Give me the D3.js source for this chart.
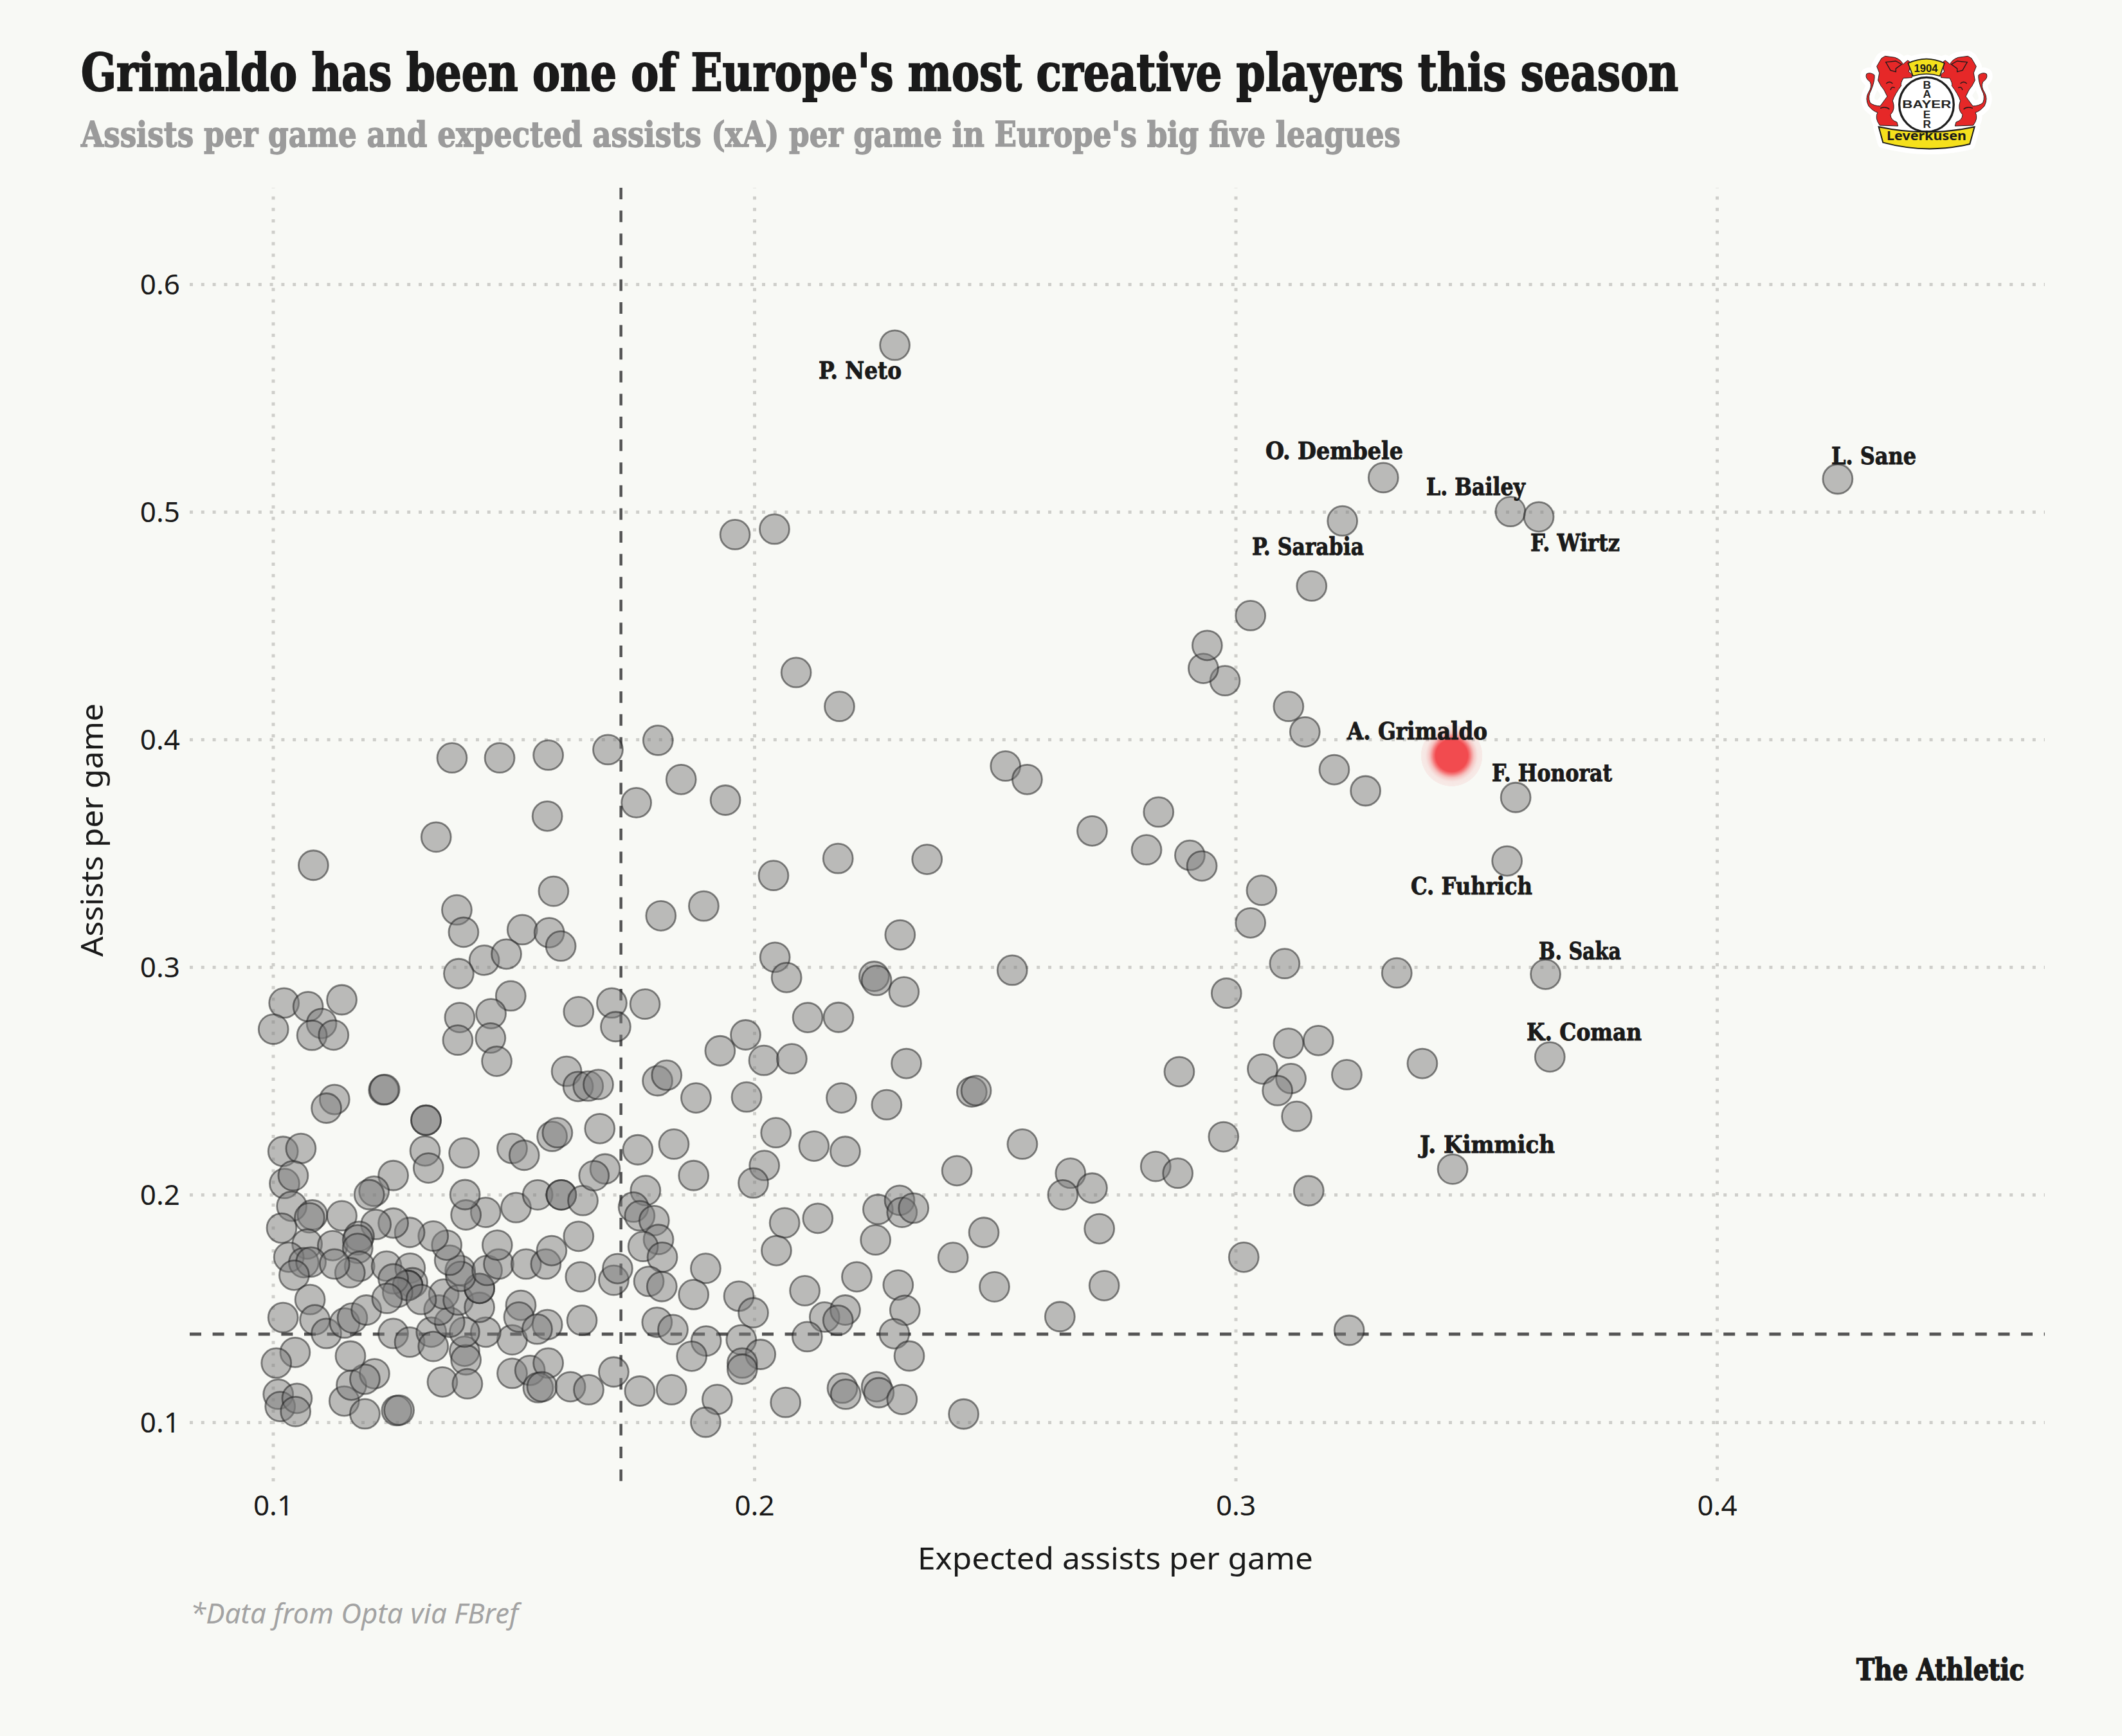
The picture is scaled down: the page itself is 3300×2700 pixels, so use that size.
<!DOCTYPE html>
<html>
<head>
<meta charset="utf-8">
<script src="https://cdn.jsdelivr.net/npm/d3@7"></script>
<style>
html,body{margin:0;padding:0;background:#f8f9f5;}
svg{display:block;}
.slab{font-family:"DejaVu Serif Condensed","DejaVu Serif",serif;font-weight:700;paint-order:stroke;}
.sans{font-family:"Noto Sans",sans-serif;}
</style>
</head>
<body>
<svg id="chart" width="3300" height="2700" xmlns="http://www.w3.org/2000/svg"></svg>
<script>
// ---------- DATA ----------
const titleText = "Grimaldo has been one of Europe's most creative players this season";
const subtitleText = "Assists per game and expected assists (xA) per game in Europe's big five leagues";
const xAxisTitle = "Expected assists per game";
const yAxisTitle = "Assists per game";
const footnoteText = "*Data from Opta via FBref";
const brandText = "The Athletic";
const xTickValues = [0.1, 0.2, 0.3, 0.4];
const yTickValues = [0.1, 0.2, 0.3, 0.4, 0.5, 0.6];
const xaThreshold = 0.1723;
const assistsThreshold = 0.1387;

// [expected assists per game, assists per game]
const otherPlayers = [
[.1021,.2190],[.1058,.2203],[.1024,.2049],[.1042,.2083],[.1039,.1949],[.1082,.1911],[.1076,.1898],[.1143,.1907],
[.1018,.1853],[.1071,.1783],[.1124,.1776],[.1033,.1725],[.1064,.1701],[.1079,.1704],[.1044,.1646],[.1077,.1539],
[.1021,.1460],[.1087,.1450],[.1111,.1390],[.1149,.1436],[.1165,.1458],[.1194,.1493],[.1046,.1307],[.1007,.1260],
[.1011,.1123],[.1015,.1069],[.1050,.1105],[.1047,.1047],[.1148,.1093],[.1163,.1163],[.1211,.1213],[.1191,.1189],
[.1161,.1291],[.1191,.1037],[.1257,.1051],[.1262,.1053],[.1250,.1390],[.1284,.1352],[.1329,.1396],[.1333,.1333],
[.1398,.1312],[.1401,.1274],[.1352,.1177],[.1404,.1169],[.1497,.1215],[.1534,.1228],[.1572,.1260],[.1551,.1152],
[.1559,.1156],[.1618,.1156],[.1656,.1143],[.1497,.1362],[.1442,.1396],[.1398,.1396],[.1367,.1439],[.1345,.1493],
[.1355,.1563],[.1385,.1537],[.1429,.1505],[.1429,.1588],[.1429,.1588],[.1389,.1667],[.1390,.1641],[.1367,.1712],
[.1361,.1778],[.1333,.1818],[.1284,.1834],[.1250,.1875],[.1214,.1869],[.1179,.1817],[.1176,.1801],[.1176,.1764],
[.1180,.1685],[.1160,.1657],[.1128,.1695],[.1236,.1686],[.1285,.1677],[.1290,.1613],[.1280,.1601],[.1280,.1601],
[.1250,.1630],[.1259,.1571],[.1237,.1544],[.1308,.1539],[.1445,.1667],[.1469,.1695],[.1526,.1695],[.1567,.1695],
[.1579,.1754],[.1466,.1778],[.1515,.1514],[.1511,.1462],[.1570,.1429],[.1549,.1409],[.1642,.1448],[.1635,.1817],
[.1639,.1639],[.1505,.1943],[.1550,.1999],[.1599,.1999],[.1599,.1999],[.1644,.1974],[.1442,.1922],[.1401,.1911],
[.1399,.2000],[.1397,.2183],[.1316,.2192],[.1323,.2117],[.1250,.2084],[.1210,.2015],[.1200,.2000],[.1497,.2203],
[.1522,.2173],[.1580,.2256],[.1591,.2272],
[.1679,.2290],[.1758,.2197],[.1833,.2222],[.1690,.2113],[.1667,.2083],[.1774,.2018],[.1749,.1945],[.1762,.1907],
[.1792,.1886],[.1801,.1803],[.1769,.1772],[.1809,.1725],[.1708,.1624],[.1716,.1675],[.1781,.1619],[.1808,.1596],
[.1798,.1439],[.1831,.1407],[.1708,.1221],[.1762,.1137],[.1828,.1143],
[.2045,.2272],[.2124,.2213],[.2189,.2190],[.1874,.2084],[.2021,.2128],[.1998,.2051],[.2421,.2105],[.2557,.2222],
[.2063,.1876],[.2132,.1896],[.2257,.1935],[.2302,.1975],[.2307,.1922],[.2331,.1941],[.2252,.1801],[.2046,.1754],
[.2477,.1834],[.2413,.1724],[.1899,.1676],[.1874,.1561],[.1968,.1554],[.1998,.1481],[.2105,.1578],[.2213,.1639],
[.2299,.1603],[.2313,.1492],[.2499,.1595],[.2146,.1462],[.2189,.1493],[.2174,.1448],[.2110,.1376],[.2291,.1389],
[.2322,.1291],[.1900,.1357],[.1973,.1362],[.1870,.1290],[.2013,.1298],[.1975,.1260],[.1975,.1233],[.1923,.1100],
[.1899,.1000],[.2065,.1087],[.2183,.1150],[.2190,.1123],[.2254,.1156],[.2259,.1130],[.2307,.1100],[.2435,.1036],
[.1084,.3447],[.1339,.3571],[.1570,.3663],[.1583,.3333],[.1382,.3251],[.1396,.3153],[.1518,.3164],[.1574,.3151],
[.1598,.3092],[.1439,.3030],[.1485,.3057],[.1386,.2971],[.1494,.2873],[.1453,.2795],[.1388,.2778],[.1452,.2688],
[.1384,.2679],[.1465,.2586],[.1635,.2804],[.1610,.2542],[.1634,.2475],[.1655,.2477],[.1676,.2484],[.1023,.2842],
[.1073,.2826],[.1143,.2856],[.1001,.2727],[.1101,.2752],[.1081,.2700],[.1126,.2701],[.1230,.2460],[.1232,.2462],
[.1318,.2327],[.1318,.2327],[.1128,.2418],[.1111,.2380],
[.1755,.3722],[.1940,.3733],[.2174,.3477],[.2040,.3402],[.2359,.3473],[.1806,.3225],[.1895,.3268],[.2303,.3141],
[.2043,.3043],[.2067,.2954],[.2249,.2959],[.2254,.2941],[.2311,.2891],[.1704,.2842],[.1773,.2837],[.1712,.2738],
[.2111,.2778],[.2175,.2779],[.1982,.2702],[.1929,.2632],[.2020,.2590],[.2078,.2597],[.2316,.2576],[.1799,.2500],
[.1818,.2525],[.1879,.2425],[.1984,.2429],[.2181,.2425],[.2275,.2395],
[.1960,.4900],[.2042,.4924],[.2087,.4294],[.2177,.4145],[.1800,.3996],[.1696,.3955],[.1572,.3931],[.1471,.3919],
[.1372,.3919],[.1848,.3824],[.2522,.3883],[.2567,.3824],[.2702,.3598],[.2840,.3681],[.2815,.3515],[.2905,.3491],
[.2930,.3444],[.3054,.3337],[.3031,.3194],[.3102,.3015],[.2536,.2986],[.2981,.2885],[.3335,.2974],[.3172,.2677],
[.3110,.2665],[.3388,.2576],[.3231,.2527],[.3056,.2552],[.3115,.2510],[.3087,.2457],[.3127,.2344],[.2883,.2540],
[.2975,.2254],[.3152,.2017],[.2834,.2124],[.2880,.2094],[.2657,.2094],[.2702,.2029],[.2641,.1999],[.2717,.1850],
[.3017,.1725],[.2727,.1600],[.2635,.1464],[.3236,.1404],[.2452,.2451],[.2461,.2457],
[.3270,.3774],[.3205,.3867],[.3144,.4033],[.3110,.4145],[.2978,.4258],[.2933,.4312],[.2941,.4413],[.3031,.4544],
[.3222,.4960],[.3158,.4674]
];

const labelNames = ["P. Neto","L. Sane","O. Dembele","L. Bailey","F. Wirtz","P. Sarabia","A. Grimaldo","F. Honorat","C. Fuhrich","B. Saka","K. Coman","J. Kimmich"];
const labelXa      = [.2292,.4251,.3307,.3571,.3630,null,.3449,.3582,.3564,.3644,.3653,.3451];
const labelAssists = [.5732,.5144,.5150,.5001,.4978,null,.3929,.3745,.3466,.2968,.2605,.2112];

// Layout for the text labels (left, baseline, width), in page pixels
const labelLayout = [[1273,589,129],[2848,722,132],[1968,714,214],[2218,770,154],[2380,857,139],[1947,863,174],
                     [2095,1150,218],[2320,1215,187],[2194,1391,189],[2393,1492,128],[2374,1618,179],[2208,1793,210]];

// ---------- SCALES ----------
const x = d3.scaleLinear().domain([0.1, 0.4]).range([424.5, 2670]);
const y = d3.scaleLinear().domain([0.1, 0.6]).range([2212, 442]);
const plot = {left: 295, right: 3180, top: 292, bottom: 2304};

const svg = d3.select("#chart");
svg.append("rect").attr("width",3300).attr("height",2700).attr("fill","#f8f9f5");

const defs = svg.append("defs");
const glow = defs.append("radialGradient").attr("id","glow");
[[0,"#f24b4f",1],[.52,"#f24b4f",1],[.6,"#f4585b",.8],[.72,"#f27a7a",.42],[.85,"#f09a9a",.2],[.99,"#f09a9a",.15],[1,"#f09a9a",0]]
  .forEach(s=>glow.append("stop").attr("offset",s[0]).attr("stop-color",s[1]).attr("stop-opacity",s[2]));

// ---------- AXES / GRID ----------
const gridStyle = g => {
  g.select(".domain").remove();
  g.selectAll(".tick line").attr("stroke","#cfcfcb").attr("stroke-width",5).attr("stroke-dasharray","5 12.8");
  g.selectAll(".tick text").attr("class","sans").attr("fill","#1a1a1a").attr("font-size",44);
};
svg.append("g").attr("transform",`translate(0,${plot.bottom})`)
  .call(d3.axisBottom(x).tickValues(xTickValues).tickFormat(d3.format(".1f")).tickSize(plot.top-plot.bottom).tickPadding(0))
  .call(gridStyle)
  .call(g=>g.selectAll(".tick text").attr("y",53).attr("dy",0));
svg.append("g").attr("transform",`translate(${plot.left},0)`)
  .call(d3.axisLeft(y).tickValues(yTickValues).tickFormat(d3.format(".1f")).tickSize(plot.left-plot.right).tickPadding(0))
  .call(gridStyle)
  .call(g=>g.selectAll(".tick text").attr("x",-15).attr("dy","0.35em"));

// ---------- THRESHOLDS ----------
svg.append("line").attr("x1",plot.left).attr("x2",plot.right).attr("y1",y(assistsThreshold)).attr("y2",y(assistsThreshold))
  .attr("stroke","#555").attr("stroke-width",5).attr("stroke-dasharray","18 17.6");
svg.append("line").attr("x1",x(xaThreshold)).attr("x2",x(xaThreshold)).attr("y1",plot.top).attr("y2",plot.bottom)
  .attr("stroke","#555").attr("stroke-width",4.5).attr("stroke-dasharray","18 17.6");

// ---------- POINTS ----------
const greyPoints = otherPlayers.concat(
  labelXa.map((v,i)=>[v,labelAssists[i]]).filter((d,i)=>d[0]!==null && labelNames[i]!=="A. Grimaldo"));
svg.append("g").selectAll("circle").data(greyPoints).join("circle")
  .attr("cx",d=>x(d[0])).attr("cy",d=>y(d[1])).attr("r",23)
  .attr("fill","#7b7b7b").attr("fill-opacity",.5)
  .attr("stroke","#1c1c1c").attr("stroke-opacity",.52).attr("stroke-width",2.8);

const gi = labelNames.indexOf("A. Grimaldo");
svg.append("circle").attr("cx",x(labelXa[gi])).attr("cy",y(labelAssists[gi])).attr("r",48).attr("fill","url(#glow)");

// ---------- POINT LABELS ----------
svg.append("g").selectAll("text").data(labelNames).join("text")
  .attr("class","slab").attr("fill","#1a1a1a").attr("font-size",38)
  .attr("stroke","#1a1a1a").attr("stroke-width",.9)
  .attr("x",(d,i)=>labelLayout[i][0]).attr("y",(d,i)=>labelLayout[i][1])
  .attr("textLength",(d,i)=>labelLayout[i][2]).attr("lengthAdjust","spacingAndGlyphs")
  .text(d=>d);

// ---------- TITLES ----------
svg.append("text").attr("class","slab").attr("x",126).attr("y",141).attr("font-size",80).attr("fill","#1a1a1a")
  .attr("stroke","#1a1a1a").attr("stroke-width",2)
  .attr("textLength",2484).attr("lengthAdjust","spacingAndGlyphs").text(titleText);
svg.append("text").attr("class","slab").attr("x",126).attr("y",228).attr("font-size",55).attr("fill","#9b9b9b")
  .attr("stroke","#9b9b9b").attr("stroke-width",1.4)
  .attr("textLength",2052).attr("lengthAdjust","spacingAndGlyphs").text(subtitleText);
svg.append("text").attr("class","sans").attr("x",1427).attr("y",2441).attr("font-size",48).attr("fill","#1a1a1a")
  .attr("textLength",615).attr("lengthAdjust","spacingAndGlyphs").text(xAxisTitle);
svg.append("text").attr("class","sans").attr("transform","translate(160,1488) rotate(-90)").attr("font-size",48).attr("fill","#1a1a1a")
  .attr("textLength",394).attr("lengthAdjust","spacingAndGlyphs").text(yAxisTitle);
svg.append("text").attr("class","sans").attr("x",296).attr("y",2525).attr("font-size",44).attr("font-style","italic").attr("fill","#a3a3a3")
  .attr("textLength",510).attr("lengthAdjust","spacingAndGlyphs").text(footnoteText);
svg.append("text").attr("class","slab").attr("x",2887).attr("y",2613).attr("font-size",47).attr("fill","#1a1a1a")
  .attr("stroke","#1a1a1a").attr("stroke-width",1.6)
  .attr("textLength",261).attr("lengthAdjust","spacingAndGlyphs").text(brandText);

// ---------- CLUB CREST (hand-drawn emblem) ----------
const crest = svg.append("g").attr("transform","translate(2800,50) scale(0.3333)");
const lionPath = "M378 122 L395 112 L440 118 Q470 128 478 150 L500 132 Q520 140 512 160 L505 185 Q525 195 520 212 L480 215 Q465 240 470 250 Q440 290 430 320 Q445 360 420 385 Q420 410 450 420 L455 438 L370 435 Q345 400 360 375 Q340 370 318 345 Q300 310 318 280 Q335 255 325 232 Q300 215 308 195 Q325 185 345 200 Q348 225 330 270 Q312 300 325 330 Q345 345 372 345 Q390 320 405 300 L390 270 L375 250 L362 225 L368 190 L356 160 Z";
const topBanner = "M502 145 Q588 105 672 145 L650 205 Q588 185 525 205 Z";
const bottomBanner = "M365 442 Q588 490 812 442 L790 522 Q590 570 385 515 Z";
const halo = crest.append("g").attr("fill","#fff").attr("stroke","#fff").attr("stroke-width",52).attr("stroke-linejoin","round");
halo.append("path").attr("d",lionPath);
halo.append("path").attr("d",lionPath).attr("transform","translate(1176,0) scale(-1,1)");
halo.append("path").attr("d",topBanner);
halo.append("path").attr("d",bottomBanner);
halo.append("circle").attr("cx",588).attr("cy",338).attr("r",130);
[ "", "translate(1176,0) scale(-1,1)" ].forEach(t=>{
  const l = crest.append("g").attr("transform",t);
  l.append("path").attr("d",lionPath).attr("fill","#e62828").attr("stroke","#1a1a1a").attr("stroke-width",3);
  l.append("path").attr("d","M398 140 L445 135 L472 150 L445 170 L445 185 L420 178 Z M400 240 Q415 225 430 240 M440 260 Q425 250 420 270 M372 355 Q400 345 415 360")
    .attr("fill","none").attr("stroke","#1a1a1a").attr("stroke-width",4);
});
crest.append("path").attr("d",topBanner).attr("fill","#f5e01c").attr("stroke","#1a1a1a").attr("stroke-width",5);
crest.append("text").attr("x",585).attr("y",186).attr("text-anchor","middle").attr("font-family","Liberation Sans").attr("font-weight",700)
  .attr("font-size",50).attr("fill","#1a1a1a").text("1904");
crest.append("circle").attr("cx",588).attr("cy",338).attr("r",127).attr("fill","#fff").attr("stroke","#1f1f1f").attr("stroke-width",10);
crest.append("text").attr("x",475).attr("y",354).attr("font-family","Liberation Sans").attr("font-weight",700)
  .attr("font-size",52).attr("fill","#222").attr("textLength",228).attr("lengthAdjust","spacingAndGlyphs").text("BAYER");
[["B",264],["A",306],["E",402],["R",446]].forEach(d=>
  crest.append("text").attr("x",590).attr("y",d[1]).attr("text-anchor","middle").attr("font-family","Liberation Sans").attr("font-weight",700)
    .attr("font-size",52).attr("fill","#222").text(d[0]));
crest.append("path").attr("d",bottomBanner).attr("fill","#f5e01c").attr("stroke","#1a1a1a").attr("stroke-width",6);
crest.append("text").attr("x",402).attr("y",503).attr("font-family","Noto Sans").attr("font-weight",700)
  .attr("font-size",58).attr("fill","#1a1a1a").attr("textLength",372).attr("lengthAdjust","spacingAndGlyphs").text("Leverkusen");
</script>
</body>
</html>
